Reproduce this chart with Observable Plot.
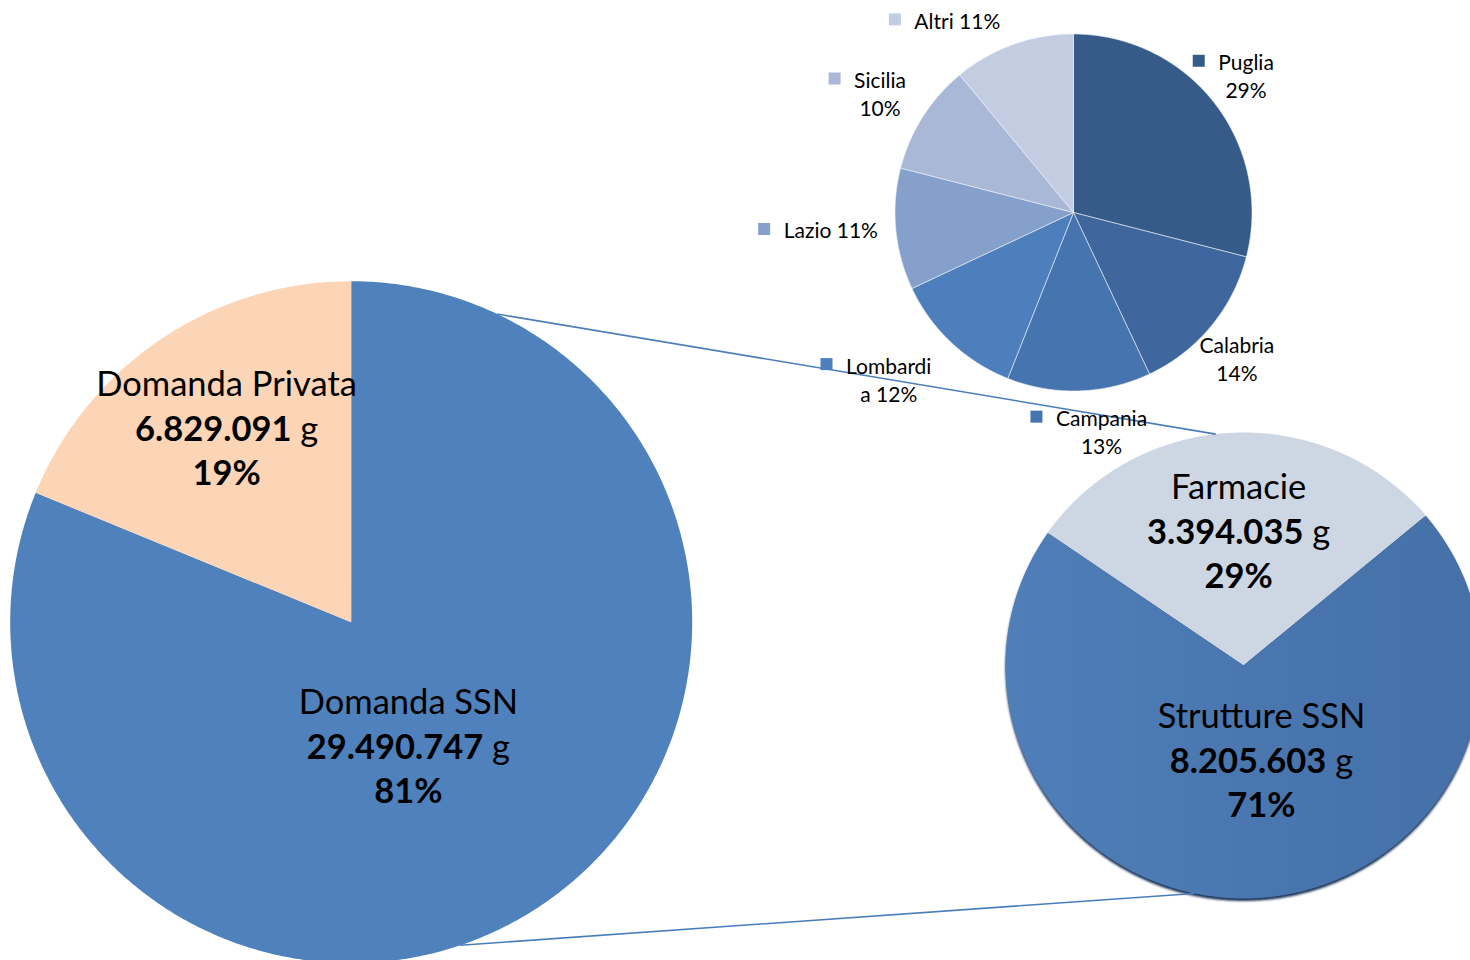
<!DOCTYPE html>
<html>
<head>
<meta charset="utf-8">
<script src="https://cdn.jsdelivr.net/npm/d3@7"></script>
<script src="https://cdn.jsdelivr.net/npm/@observablehq/plot@0.6"></script>
<style>
  html, body { margin: 0; padding: 0; background: #ffffff; }
  #chart { width: 1470px; height: 960px; overflow: hidden; }
</style>
</head>
<body>
<div id="chart"></div>
<script>
// ---------------- DATA ----------------
const demandCategories = ["Domanda SSN", "Domanda Privata"];
const demandValues = [29490747, 6829091];              // grammi

const channelCategories = ["Farmacie", "Strutture SSN"];
const channelValues = [3394035, 8205603];               // grammi

const regionCategories = ["Puglia", "Calabria", "Campania", "Lombardia", "Lazio", "Sicilia", "Altri"];
const regionShares = [29, 14, 13, 12, 11, 10, 11];      // %

// ---------------- STYLE / LAYOUT ----------------
const demandColors = ["#4f81bd", "#fbd5b5"];
const channelColors = ["#cdd7e3", "url(#ssnGrad)"];
const regionColors = ["#365b88", "#3f679d", "#4674ae", "#4e7fbd", "#85a0cb", "#a9b8d6", "#c3cde1"];
const shadowColor = "#1c3558";

const bigPie = {cx: 350.7, cy: 621.7, rx: 341, ry: 341, start: 0};
const regionPie = {cx: 1073, cy: 212, rx: 178.5, ry: 178.5, start: 0};
const channelPie = {cx: 1243, cy: 665, rx: 238, ry: 233, start: -55.35};

const bigLabelNudge = [9.3, 0.9], bigLabelDist = [0.404, 0.672];
const channelLabelNudge = [0.6, -7.7], channelLabelDist = [0.571, 0.419];
const regionLabelNudge = [-0.7, 2.1, -5.5, 4.85, 1.4, -0.7, -11.3];
const regionLabelDist = [1.235, 1.226, 1.235, 1.392, 1.363, 1.274, 1.26];
const regionLabelBreak = [6, 8, 8, 8, -1, 7, -1];   // char index where the label wraps (-1: no wrap)

// connector lines: angle on the big pie -> angle on the channel pie
const connectorAngles = [[25.36, -6.7], [161.3, 191.9]];

const fontFamily = "Lato, Calibri, Carlito, sans-serif";
const bigFont = 34.5, bigLine = 44.5;
const smallFont = 21, smallLine = 28;

// ---------------- HELPERS ----------------
const fmt = d3.formatLocale({decimal: ",", thousands: ".", grouping: [3], currency: ["", " €"]}).format(",d");
const rad = a => a * Math.PI / 180;

function slices(values, geo) {
  const total = d3.sum(values);
  let a = geo.start;
  return values.map((v, i) => {
    const a0 = a, a1 = a + v / total * 360;
    a = a1;
    return {i, a0, a1, mid: (a0 + a1) / 2};
  });
}
function polar(geo, angle, d) {
  return {x: geo.cx + d * geo.rx * Math.sin(rad(angle)), y: geo.cy - d * geo.ry * Math.cos(rad(angle))};
}
function slicePolygons(values, geo, colors, key) {
  const rows = [];
  for (const s of slices(values, geo)) {
    const id = key + s.i;
    rows.push({id, fill: colors[s.i], x: geo.cx, y: geo.cy});
    const n = Math.max(2, Math.ceil((s.a1 - s.a0) / 0.5));
    for (let k = 0; k <= n; k++) {
      const p = polar(geo, s.a0 + (s.a1 - s.a0) * k / n, 1);
      rows.push({id, fill: colors[s.i], x: p.x, y: p.y});
    }
    rows.push({id, fill: colors[s.i], x: geo.cx, y: geo.cy});
  }
  return rows;
}
function ellipseRing(geo, dy, id) {
  const rows = [];
  for (let k = 0; k <= 720; k++) {
    const p = polar(geo, k / 2, 1);
    rows.push({id, x: p.x, y: p.y + dy});
  }
  return rows;
}
function bigLabels(cats, values, geo, nudge, dist) {
  const total = d3.sum(values);
  return slices(values, geo).map(s => {
    const p = polar(geo, s.mid + nudge[s.i], dist[s.i]);
    return {
      name: cats[s.i],
      value: fmt(values[s.i]) + "\u00a0g",
      pct: Math.round(values[s.i] / total * 100) + "%",
      x: p.x, y: p.y
    };
  });
}

// ---------------- BUILD ----------------
const bigRows = slicePolygons(demandValues, bigPie, demandColors, "d");
const regionRows = slicePolygons(regionShares, regionPie, regionColors, "r");
const channelRows = slicePolygons(channelValues, channelPie, channelColors, "c");
const shadowRows = ellipseRing(channelPie, 2.5, "shadow");

const bigText = bigLabels(demandCategories, demandValues, bigPie, bigLabelNudge, bigLabelDist);
const channelText = bigLabels(channelCategories, channelValues, channelPie, channelLabelNudge, channelLabelDist);
const allBig = [...bigText, ...channelText];

const ctx = document.createElement("canvas").getContext("2d");
ctx.font = `${smallFont}px ${fontFamily}`;

const regionText = slices(regionShares, regionPie).map(s => {
  const full = `${regionCategories[s.i]} ${regionShares[s.i]}%`;
  const br = regionLabelBreak[s.i];
  const lines = br < 0 ? [full] : [full.slice(0, br), full.slice(br).trimStart()];
  const p = polar(regionPie, s.mid + regionLabelNudge[s.i], regionLabelDist[s.i]);
  const w1 = ctx.measureText(lines[0]).width;
  const firstY = p.y - (lines.length - 1) * smallLine / 2;
  const sqRight = p.x - w1 / 2 - 13;
  return {
    text: lines.join("\n"), x: p.x, y: p.y, fill: regionColors[s.i],
    sx1: sqRight - 12, sx2: sqRight, sy1: firstY - 6, sy2: firstY + 6
  };
});

const connectors = connectorAngles.map(([a, b]) => {
  const p = polar(bigPie, a, 1), q = polar(channelPie, b, 1);
  return {x1: p.x, y1: p.y, x2: q.x, y2: q.y};
});

const svg = Plot.plot({
  width: 1470,
  height: 960,
  margin: 0,
  style: {background: "#ffffff", fontFamily},
  x: {domain: [0, 1470], range: [0, 1470], axis: null},
  y: {domain: [0, 960], range: [0, 960], axis: null},
  color: {type: "identity"},
  marks: [
    Plot.line(bigRows, {x: "x", y: "y", z: "id", fill: "fill", stroke: "none"}),
    Plot.line(regionRows, {x: "x", y: "y", z: "id", fill: "fill", stroke: "#eef2f8", strokeWidth: 0.6}),
    Plot.line(shadowRows, {x: "x", y: "y", z: "id", fill: shadowColor, stroke: "none"}),
    Plot.line(channelRows, {x: "x", y: "y", z: "id", fill: "fill", stroke: "none"}),
    Plot.link(connectors, {x1: "x1", y1: "y1", x2: "x2", y2: "y2", stroke: "#4a7ebb", strokeWidth: 1.6}),
    // big labels
    Plot.text(allBig, {x: "x", y: "y", text: "name", dy: -bigLine, fontSize: bigFont, fontFamily, fill: "#000"}),
    Plot.text(allBig, {x: "x", y: "y", text: "value", fontSize: bigFont, fontFamily, fill: "#000"}),
    Plot.text(allBig, {x: "x", y: "y", text: "pct", dy: bigLine, fontSize: bigFont, fontFamily, fontWeight: "bold", fill: "#000"}),
    // region labels
    Plot.rect(regionText, {x1: "sx1", x2: "sx2", y1: "sy1", y2: "sy2", fill: "fill"}),
    Plot.text(regionText, {x: "x", y: "y", text: "text", fontSize: smallFont, fontFamily, lineHeight: smallLine / smallFont, fill: "#000"})
  ]
});

const root = d3.select(svg);
const defs = root.insert("defs", ":first-child");
const g = defs.append("linearGradient").attr("id", "ssnGrad").attr("x1", "0").attr("x2", "1").attr("y1", "0").attr("y2", "0");
g.append("stop").attr("offset", "0").attr("stop-color", "#4f7eb8");
g.append("stop").attr("offset", "1").attr("stop-color", "#4570a8");
defs.append("filter").attr("id", "softBlur").attr("x", "-10%").attr("y", "-10%").attr("width", "120%").attr("height", "120%")
  .append("feGaussianBlur").attr("stdDeviation", 1);
root.selectAll(`[fill="${shadowColor}"]`).attr("filter", "url(#softBlur)");

// bold number, regular unit in the value lines
root.selectAll("text").filter(function () { return this.textContent.includes("\u00a0g"); }).each(function () {
  const t = this.textContent;
  const k = t.lastIndexOf("\u00a0");
  this.textContent = "";
  d3.select(this).append("tspan").attr("font-weight", "bold").text(t.slice(0, k));
  d3.select(this).append("tspan").text(t.slice(k));
});

document.getElementById("chart").appendChild(svg);
</script>
</body>
</html>
